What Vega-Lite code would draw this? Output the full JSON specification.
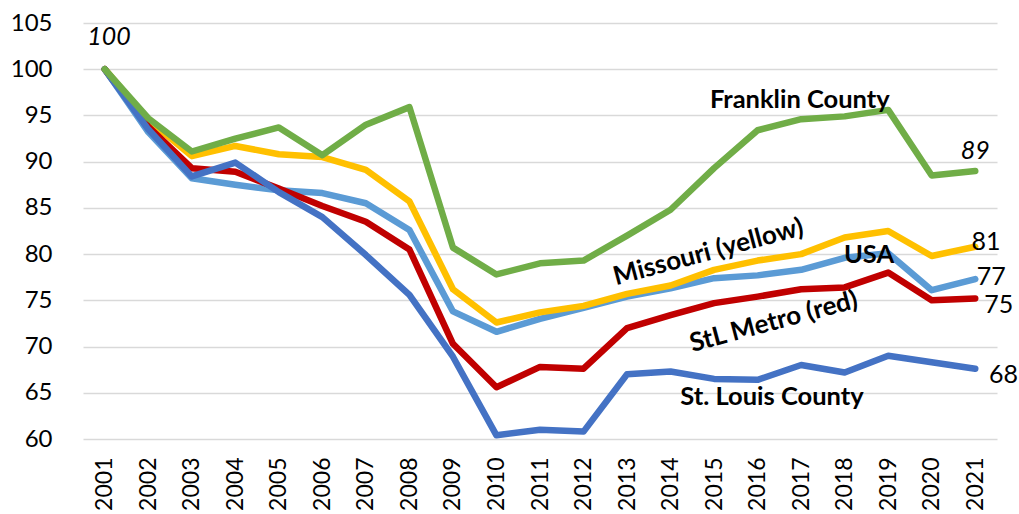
{
  "$schema": "https://vega.github.io/schema/vega-lite/v6.json",
  "width": 914,
  "height": 416,
  "autosize": "none",
  "padding": {"left": 83, "top": 23, "right": 22, "bottom": 75},
  "background": "white",
  "config": {"view": {"stroke": null}, "font": "Lato"},
  "datasets": {
    "series": [
      {"year": 2001, "series": "USA", "value": 100},
      {"year": 2002, "series": "USA", "value": 93.2},
      {"year": 2003, "series": "USA", "value": 88.2},
      {"year": 2004, "series": "USA", "value": 87.5},
      {"year": 2005, "series": "USA", "value": 86.9},
      {"year": 2006, "series": "USA", "value": 86.6},
      {"year": 2007, "series": "USA", "value": 85.5},
      {"year": 2008, "series": "USA", "value": 82.6},
      {"year": 2009, "series": "USA", "value": 73.8},
      {"year": 2010, "series": "USA", "value": 71.6},
      {"year": 2011, "series": "USA", "value": 73.0},
      {"year": 2012, "series": "USA", "value": 74.2},
      {"year": 2013, "series": "USA", "value": 75.4},
      {"year": 2014, "series": "USA", "value": 76.3},
      {"year": 2015, "series": "USA", "value": 77.4},
      {"year": 2016, "series": "USA", "value": 77.7},
      {"year": 2017, "series": "USA", "value": 78.3},
      {"year": 2018, "series": "USA", "value": 79.6},
      {"year": 2019, "series": "USA", "value": 80.1},
      {"year": 2020, "series": "USA", "value": 76.1},
      {"year": 2021, "series": "USA", "value": 77.3},
      {"year": 2001, "series": "Missouri", "value": 100},
      {"year": 2002, "series": "Missouri", "value": 94.5},
      {"year": 2003, "series": "Missouri", "value": 90.6},
      {"year": 2004, "series": "Missouri", "value": 91.7},
      {"year": 2005, "series": "Missouri", "value": 90.8},
      {"year": 2006, "series": "Missouri", "value": 90.5},
      {"year": 2007, "series": "Missouri", "value": 89.1},
      {"year": 2008, "series": "Missouri", "value": 85.7},
      {"year": 2009, "series": "Missouri", "value": 76.2},
      {"year": 2010, "series": "Missouri", "value": 72.6},
      {"year": 2011, "series": "Missouri", "value": 73.7},
      {"year": 2012, "series": "Missouri", "value": 74.4},
      {"year": 2013, "series": "Missouri", "value": 75.7},
      {"year": 2014, "series": "Missouri", "value": 76.6},
      {"year": 2015, "series": "Missouri", "value": 78.3},
      {"year": 2016, "series": "Missouri", "value": 79.3},
      {"year": 2017, "series": "Missouri", "value": 80.0},
      {"year": 2018, "series": "Missouri", "value": 81.8},
      {"year": 2019, "series": "Missouri", "value": 82.5},
      {"year": 2020, "series": "Missouri", "value": 79.8},
      {"year": 2021, "series": "Missouri", "value": 80.8},
      {"year": 2001, "series": "StL Metro", "value": 100},
      {"year": 2002, "series": "StL Metro", "value": 93.8},
      {"year": 2003, "series": "StL Metro", "value": 89.3},
      {"year": 2004, "series": "StL Metro", "value": 88.9},
      {"year": 2005, "series": "StL Metro", "value": 87.1},
      {"year": 2006, "series": "StL Metro", "value": 85.2},
      {"year": 2007, "series": "StL Metro", "value": 83.5},
      {"year": 2008, "series": "StL Metro", "value": 80.5},
      {"year": 2009, "series": "StL Metro", "value": 70.3},
      {"year": 2010, "series": "StL Metro", "value": 65.6},
      {"year": 2011, "series": "StL Metro", "value": 67.8},
      {"year": 2012, "series": "StL Metro", "value": 67.6},
      {"year": 2013, "series": "StL Metro", "value": 72.0},
      {"year": 2014, "series": "StL Metro", "value": 73.4},
      {"year": 2015, "series": "StL Metro", "value": 74.7},
      {"year": 2016, "series": "StL Metro", "value": 75.4},
      {"year": 2017, "series": "StL Metro", "value": 76.2},
      {"year": 2018, "series": "StL Metro", "value": 76.4},
      {"year": 2019, "series": "StL Metro", "value": 78.0},
      {"year": 2020, "series": "StL Metro", "value": 75.0},
      {"year": 2021, "series": "StL Metro", "value": 75.2},
      {"year": 2001, "series": "St. Louis County", "value": 100},
      {"year": 2002, "series": "St. Louis County", "value": 93.5},
      {"year": 2003, "series": "St. Louis County", "value": 88.4},
      {"year": 2004, "series": "St. Louis County", "value": 89.9},
      {"year": 2005, "series": "St. Louis County", "value": 86.7},
      {"year": 2006, "series": "St. Louis County", "value": 84.0},
      {"year": 2007, "series": "St. Louis County", "value": 79.9},
      {"year": 2008, "series": "St. Louis County", "value": 75.6},
      {"year": 2009, "series": "St. Louis County", "value": 68.9},
      {"year": 2010, "series": "St. Louis County", "value": 60.4},
      {"year": 2011, "series": "St. Louis County", "value": 61.0},
      {"year": 2012, "series": "St. Louis County", "value": 60.8},
      {"year": 2013, "series": "St. Louis County", "value": 67.0},
      {"year": 2014, "series": "St. Louis County", "value": 67.3},
      {"year": 2015, "series": "St. Louis County", "value": 66.5},
      {"year": 2016, "series": "St. Louis County", "value": 66.4},
      {"year": 2017, "series": "St. Louis County", "value": 68.0},
      {"year": 2018, "series": "St. Louis County", "value": 67.2},
      {"year": 2019, "series": "St. Louis County", "value": 69.0},
      {"year": 2020, "series": "St. Louis County", "value": 68.3},
      {"year": 2021, "series": "St. Louis County", "value": 67.6},
      {"year": 2001, "series": "Franklin", "value": 100},
      {"year": 2002, "series": "Franklin", "value": 94.7},
      {"year": 2003, "series": "Franklin", "value": 91.1},
      {"year": 2004, "series": "Franklin", "value": 92.5},
      {"year": 2005, "series": "Franklin", "value": 93.7},
      {"year": 2006, "series": "Franklin", "value": 90.7},
      {"year": 2007, "series": "Franklin", "value": 94.0},
      {"year": 2008, "series": "Franklin", "value": 95.9},
      {"year": 2009, "series": "Franklin", "value": 80.7},
      {"year": 2010, "series": "Franklin", "value": 77.8},
      {"year": 2011, "series": "Franklin", "value": 79.0},
      {"year": 2012, "series": "Franklin", "value": 79.3},
      {"year": 2013, "series": "Franklin", "value": 82.0},
      {"year": 2014, "series": "Franklin", "value": 84.8},
      {"year": 2015, "series": "Franklin", "value": 89.3},
      {"year": 2016, "series": "Franklin", "value": 93.4},
      {"year": 2017, "series": "Franklin", "value": 94.6},
      {"year": 2018, "series": "Franklin", "value": 94.9},
      {"year": 2019, "series": "Franklin", "value": 95.6},
      {"year": 2020, "series": "Franklin", "value": 88.5},
      {"year": 2021, "series": "Franklin", "value": 89.0}
    ],
    "italicLabels": [
      {"label": "100", "x": 2001.1, "y": 103.5},
      {"label": "89", "x": 2021.0, "y": 91.1}
    ],
    "endLabels": [
      {"label": "81", "x": 2021.25, "y": 81.3},
      {"label": "77", "x": 2021.37, "y": 77.5},
      {"label": "75", "x": 2021.54, "y": 74.5},
      {"label": "68", "x": 2021.65, "y": 66.9}
    ],
    "boldLabels": [
      {"label": "Franklin County", "x": 2016.97, "y": 96.7},
      {"label": "USA", "x": 2018.56, "y": 79.9},
      {"label": "St. Louis County", "x": 2016.33, "y": 64.55}
    ],
    "slantLabels": [
      {"label": "Missouri (yellow)", "x": 2014.87, "y": 80.2},
      {"label": "StL Metro (red)", "x": 2016.37, "y": 72.67}
    ]
  },
  "layer": [
    {
      "data": {"name": "series"},
      "mark": {"type": "line", "strokeCap": "round", "strokeJoin": "round", "clip": false},
      "encoding": {
        "x": {
          "field": "year", "type": "quantitative",
          "scale": {"domain": [2000.5, 2021.5], "nice": false, "zero": false},
          "axis": {
            "values": [2001,2002,2003,2004,2005,2006,2007,2008,2009,2010,2011,2012,2013,2014,2015,2016,2017,2018,2019,2020,2021],
            "format": "d", "labelAngle": -90, "title": null, "grid": false,
            "ticks": false, "domain": false, "labelFont": "Lato", "labelFontSize": 23,
            "labelColor": "#000000", "labelPadding": 18, "labelFlush": false, "labelOverlap": false
          }
        },
        "y": {
          "field": "value", "type": "quantitative",
          "scale": {"domain": [60, 105], "nice": false, "zero": false},
          "axis": {
            "values": [60,65,70,75,80,85,90,95,100,105],
            "title": null, "grid": true, "gridColor": "#D9D9D9", "gridWidth": 1.5,
            "ticks": false, "domain": false, "labelFont": "Lato", "labelFontSize": 24,
            "labelColor": "#000000", "labelPadding": 31
          }
        },
        "color": {
          "field": "series", "type": "nominal", "legend": null,
          "scale": {
            "domain": ["USA", "Missouri", "StL Metro", "St. Louis County", "Franklin"],
            "range": ["#5B9BD5", "#FFC000", "#C00000", "#4472C4", "#70AD47"]
          }
        },
        "size": {
          "field": "series", "type": "nominal", "legend": null,
          "scale": {
            "domain": ["USA", "Missouri", "StL Metro", "St. Louis County", "Franklin"],
            "range": [6.5, 6.5, 10, 10, 10]
          }
        }
      }
    },
    {
      "data": {"name": "italicLabels"},
      "mark": {"type": "text", "font": "Lato", "fontSize": 25, "fontStyle": "italic", "align": "center", "baseline": "middle", "color": "#000000"},
      "encoding": {
        "x": {"field": "x", "type": "quantitative"},
        "y": {"field": "y", "type": "quantitative"},
        "text": {"field": "label"}
      }
    },
    {
      "data": {"name": "endLabels"},
      "mark": {"type": "text", "font": "Lato", "fontSize": 25, "align": "center", "baseline": "middle", "color": "#000000"},
      "encoding": {
        "x": {"field": "x", "type": "quantitative"},
        "y": {"field": "y", "type": "quantitative"},
        "text": {"field": "label"}
      }
    },
    {
      "data": {"name": "boldLabels"},
      "mark": {"type": "text", "font": "Lato", "fontSize": 25.5, "fontWeight": "bold", "align": "center", "baseline": "middle", "color": "#000000"},
      "encoding": {
        "x": {"field": "x", "type": "quantitative"},
        "y": {"field": "y", "type": "quantitative"},
        "text": {"field": "label"}
      }
    },
    {
      "data": {"name": "slantLabels"},
      "mark": {"type": "text", "font": "Lato", "fontSize": 26, "fontWeight": "bold", "align": "center", "baseline": "middle", "angle": -15, "color": "#000000"},
      "encoding": {
        "x": {"field": "x", "type": "quantitative"},
        "y": {"field": "y", "type": "quantitative"},
        "text": {"field": "label"}
      }
    }
  ]
}
